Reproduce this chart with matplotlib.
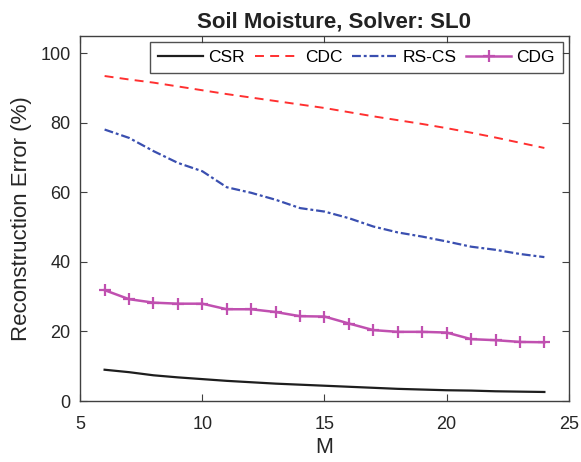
import matplotlib
matplotlib.use("Agg")
import matplotlib.pyplot as plt

plt.rcParams['font.family'] = ['Liberation Sans', 'DejaVu Sans']

M = list(range(6, 25))
csr = [9.0, 8.3, 7.4, 6.8, 6.3, 5.8, 5.4, 5.0, 4.7, 4.4, 4.1, 3.8, 3.5, 3.3, 3.1, 3.0, 2.8, 2.7, 2.6]
cdc = [93.5, 92.5, 91.6, 90.5, 89.4, 88.3, 87.3, 86.3, 85.3, 84.3, 83.1, 81.9, 80.8, 79.7, 78.5, 77.2, 75.8, 74.3, 72.8]
rscs = [78.1, 75.7, 71.9, 68.5, 66.1, 61.5, 59.9, 57.9, 55.5, 54.5, 52.6, 50.2, 48.5, 47.3, 45.9, 44.4, 43.5, 42.3, 41.4]
cdg = [31.9, 29.3, 28.3, 28.0, 28.0, 26.4, 26.4, 25.6, 24.4, 24.3, 22.3, 20.4, 19.9, 19.9, 19.7, 17.8, 17.5, 17.0, 16.9]

title = "Soil Moisture, Solver: SL0"
xlabel = "M"
ylabel = "Reconstruction Error (%)"
xticks = [5, 10, 15, 20, 25]
yticks = [0, 20, 40, 60, 80, 100]

fig = plt.figure(figsize=(5.81, 4.62), dpi=100)
ax = fig.add_axes([0.138, 0.132, 0.841, 0.790])

ax.plot(M, csr, color='#1e1e1e', lw=1.6, label='CSR')
ax.plot(M, cdc, color='#ff3030', lw=1.4, ls=(0, (4.6, 3.2)), label='CDC')
ax.plot(M, rscs, color='#3a4fb0', lw=1.6, ls=(0, (4.0, 1.3, 1.3, 1.3)), label='RS-CS')
ax.plot(M, cdg, color='#c050b0', lw=1.8, marker='+', ms=9, mew=1.6, label='CDG')

ax.set_xlim(5, 25)
ax.set_ylim(0, 105)
ax.set_xticks(xticks)
ax.set_yticks(yticks)
gray = '#404040'
for s in ax.spines.values():
    s.set_color(gray)
    s.set_linewidth(1.0)
ax.tick_params(direction='in', top=True, right=True, colors=gray, labelsize=13, length=5)
ax.tick_params(axis='x', pad=11)
ax.tick_params(axis='y', pad=7)
for lab in ax.get_xticklabels() + ax.get_yticklabels():
    lab.set_color('#262626')
ax.set_title(title, fontsize=16, fontweight='bold', color='#222222', pad=6, x=0.52)
ax.set_xlabel(xlabel, fontsize=15.5, color='#262626', labelpad=3)
ax.set_ylabel(ylabel, fontsize=16, color='#262626', labelpad=6)

leg = ax.legend(loc='upper right', ncol=4, fontsize=12.5, frameon=True, fancybox=False,
                edgecolor='#262626', handlelength=2.6, handletextpad=0.3, columnspacing=0.55,
                borderaxespad=0.35, borderpad=0.45)
leg.get_frame().set_linewidth(1.0)

fig.savefig('out.png', dpi=100)
